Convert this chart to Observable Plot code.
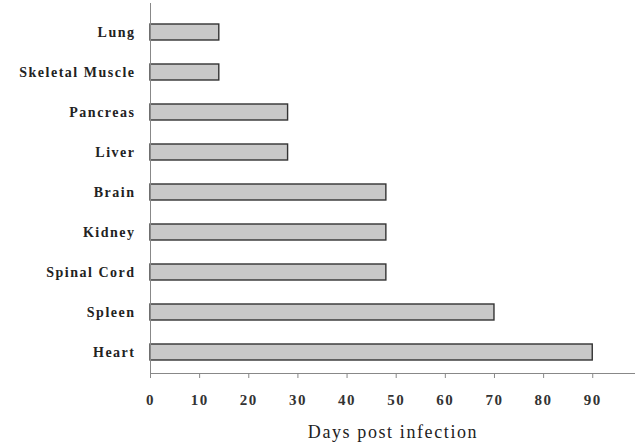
<!DOCTYPE html>
<html>
<head>
<meta charset="utf-8">
<script src="https://cdn.jsdelivr.net/npm/d3@7"></script>
<script src="https://cdn.jsdelivr.net/npm/@observablehq/plot@0.6"></script>
<style>
  html, body { margin: 0; padding: 0; background: #fff; }
  #chart svg { display: block; }
  #chart g[aria-label="y-axis tick label"] text { letter-spacing: 1.5px; }
  #chart g[aria-label="x-axis tick label"] text { letter-spacing: 1.5px; }
  #chart g[aria-label="text"] text { letter-spacing: 1.6px; }
</style>
</head>
<body>
<div id="chart"></div>
<script>
const organs = ["Lung", "Skeletal Muscle", "Pancreas", "Liver", "Brain", "Kidney", "Spinal Cord", "Spleen", "Heart"];
const days = [14, 14, 28, 28, 48, 48, 48, 70, 90];
const xTicks = [0, 10, 20, 30, 40, 50, 60, 70, 80, 90];
const xLabel = "Days post infection";

const data = organs.map((o, i) => ({organ: o, days: days[i]}));

const chart = Plot.plot({
  width: 635,
  height: 442,
  marginLeft: 150,
  marginRight: 0,
  marginTop: 3,
  marginBottom: 69,
  style: {fontFamily: "'Liberation Serif', 'Times New Roman', serif", background: "#fff", color: "#222"},
  x: {domain: [0, 98.7]},
  y: {domain: organs, paddingInner: 0.6, paddingOuter: 0.27, insetTop: 8.5, align: 0.5},
  marks: [
    Plot.barX(data, {x: "days", y: "organ", fill: "#c9c9c9", stroke: "#333", strokeWidth: 1.4}),
    Plot.frame({anchor: "left", stroke: "#888", strokeWidth: 1}),
    Plot.frame({anchor: "bottom", stroke: "#888", strokeWidth: 1}),
    Plot.axisY({tickSize: 0, tickPadding: 15, label: null, fontSize: 14, fontWeight: "bold", fill: "#222"}),
    Plot.axisX({ticks: xTicks, tickSize: 5, stroke: "#888", tickPadding: 16, fontSize: 15, fontWeight: "bold", fill: "#333", label: null}),
    Plot.text([xLabel], {frameAnchor: "bottom", dy: 64, text: d => d, fontSize: 18, fill: "#222"})
  ]
});
document.getElementById("chart").append(chart);
</script>
</body>
</html>
